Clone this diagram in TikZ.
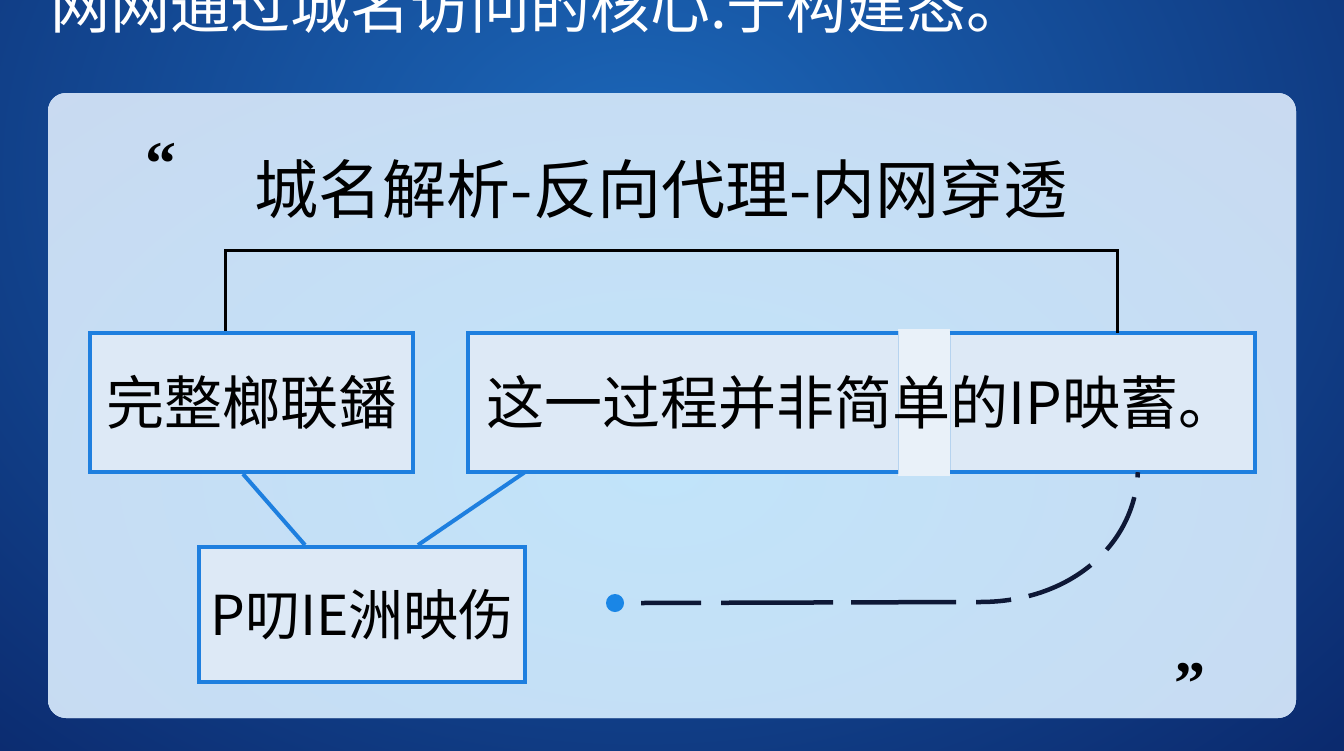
\documentclass[tikz,border=0pt]{standalone}
\usepackage{fontspec}
\newfontfamily\cjk{Noto Sans CJK SC}
\newfontfamily\qfont{Liberation Serif}
\usetikzlibrary{calc}
\definecolor{bgdark}{HTML}{0B2A6E}
\definecolor{bglight}{HTML}{1C68BA}
\definecolor{panel}{HTML}{CAD8EF}
\definecolor{panelc}{HTML}{C1E4FA}
\definecolor{boxfill}{HTML}{DDE9F6}
\definecolor{boxline}{HTML}{1E7FDF}
\definecolor{navy}{HTML}{0E1836}
\definecolor{stripc}{HTML}{E9F1F9}
\definecolor{stripedge}{HTML}{B6D3EF}
\definecolor{dotblue}{HTML}{1A86E6}
\begin{document}
\begin{tikzpicture}[x=1pt,y=-1pt,
  txt/.style={font=\cjk\fontsize{58}{60}\selectfont, text=black, inner sep=0pt},
  boxn/.style={fill=boxfill, inner sep=0pt},
  bline/.style={draw=boxline, line width=4pt},
  tree/.style={draw=black, line width=3pt},
  link/.style={draw=boxline, line width=4pt},
  quote/.style={font=\qfont\bfseries\fontsize{62}{62}\selectfont, text=black, inner sep=0pt, anchor=north west},
  dashc/.style={draw=navy, line width=4.5pt, dash pattern=on 60pt off 20pt on 112pt off 18pt on 105pt off 20pt on 35pt off 18pt on 70pt off 22pt}]
\useasboundingbox (0,0) rectangle (1344,750);
\begin{scope}
  \clip (0,0) rectangle (1344,750);
  \fill[bgdark] (-2,-2) rectangle (1346,752);
  \shade[inner color=bglight, outer color=bgdark] (-360,-630) rectangle (1640,970);
\end{scope}
% panel
\fill[panel, rounded corners=18pt] (48,93) rectangle (1296,718);
\begin{scope}
  \clip[rounded corners=18pt] (48,93) rectangle (1296,718);
  \shade[inner color=panelc, outer color=panel] (660,470) ellipse (1000pt and 620pt);
\end{scope}
% top text
\node[anchor=base west, text=white, font=\cjk\fontsize{60}{62}\selectfont, inner sep=0pt] (top) at (50,28) {网网通过城名访问的核心.于构建态。};
% title and quotes
\node[txt, font=\cjk\fontsize{64}{66}\selectfont, anchor=base] (title) at (661,213) {城名解析-反向代理-内网穿透};
\node[quote] (lq) at (145,143) {“};
\node[quote] (rq) at (1174,663) {”};
% boxes
\node[boxn, bline, txt, minimum width=323pt, minimum height=139pt] (b1) at (251.5,402.5) {完整榔联鐇};
\node[boxn, minimum width=787pt, minimum height=139pt] (b2) at (861.5,402.5) {};
\fill[stripc] (898,329) rectangle (950,476);
\draw[stripedge, line width=1pt] (898,331) -- (898,474) (950,331) -- (950,474);
\draw[bline] ($(b2.north west)+(430,0)$) -- (b2.north west) -- (b2.south west) -- ($(b2.south west)+(430,0)$);
\draw[bline] ($(b2.north west)+(482,0)$) -- (b2.north east) -- (b2.south east) -- ($(b2.south west)+(482,0)$);
\node[txt] (b2t) at (b2.center) {这一过程并非简单的IP映蓄。};
\node[boxn, bline, txt, font=\cjk\fontsize{55}{57}\selectfont, minimum width=326pt, minimum height=135pt] (b3) at (362,614.5) {P叨IE洲映伤};
% tree connector
\draw[tree] ($(b1.north west)+(137,0)$) -- ++(0,-81) -| ($(b2.north west)+(650,0)$);
% links
\draw[link] ($(b1.south west)+(155,0)$) -- ($(b3.north west)+(108,0)$);
\draw[link] ($(b2.south west)+(57,0)$) -- ($(b3.north west)+(221,0)$);
% dot and dashed curve
\node[circle, fill=dotblue, minimum size=18pt, inner sep=0pt] (dot) at (615,603) {};
\coordinate (c1) at (980,602);
\draw[dashc] ($(dot.east)+(17,0)$) -- (c1) .. controls (1070,602) and (1135,545) .. ($(b2.south west)+(670,0)$);
\end{tikzpicture}
\end{document}
